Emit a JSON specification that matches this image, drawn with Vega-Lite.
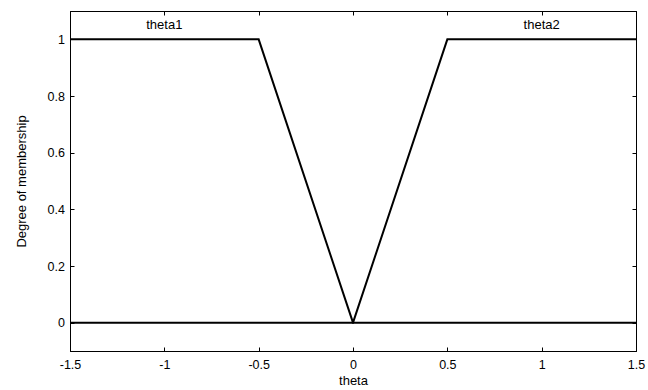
{
  "$schema": "https://vega.github.io/schema/vega-lite/v6.json",
  "width": 566,
  "height": 340,
  "autosize": {"type": "none"},
  "padding": {"left": 70, "top": 11, "right": 12, "bottom": 39},
  "background": "white",
  "config": {
    "view": {"stroke": "black", "strokeWidth": 1},
    "font": "Liberation Sans",
    "axis": {
      "grid": false,
      "domainColor": "black",
      "domainWidth": 1,
      "tickColor": "black",
      "tickSize": -4,
      "labelColor": "black",
      "labelFont": "Liberation Sans",
      "labelFontSize": 12.5,
      "labelExpr": "datum.value + ''",
      "titleFont": "Liberation Sans",
      "titleFontSize": 13,
      "titleFontWeight": "normal",
      "titleColor": "black"
    }
  },
  "datasets": {
    "curves": [
      {"theta": -1.5, "mu": 1, "series": "theta1"},
      {"theta": -0.5, "mu": 1, "series": "theta1"},
      {"theta": 0, "mu": 0, "series": "theta1"},
      {"theta": 1.5, "mu": 0, "series": "theta1"},
      {"theta": -1.5, "mu": 0, "series": "theta2"},
      {"theta": 0, "mu": 0, "series": "theta2"},
      {"theta": 0.5, "mu": 1, "series": "theta2"},
      {"theta": 1.5, "mu": 1, "series": "theta2"}
    ],
    "labels": [
      {"theta": -1, "mu": 1.052, "label": "theta1"},
      {"theta": 1, "mu": 1.052, "label": "theta2"}
    ]
  },
  "layer": [
    {
      "data": {"name": "curves"},
      "mark": {"type": "line", "color": "black", "strokeWidth": 2},
      "encoding": {
        "x": {
          "field": "theta", "type": "quantitative",
          "scale": {"domain": [-1.5, 1.5], "nice": false, "zero": false},
          "axis": {"orient": "bottom", "values": [-1.5, -1, -0.5, 0, 0.5, 1, 1.5], "labelPadding": 11, "title": "theta", "titleBaseline": "alphabetic", "titleY": 33, "labelFlush": false}
        },
        "y": {
          "field": "mu", "type": "quantitative",
          "scale": {"domain": [-0.1, 1.1], "nice": false, "zero": false},
          "axis": {"orient": "left", "values": [0, 0.2, 0.4, 0.6, 0.8, 1], "labelPadding": 9.5, "title": "Degree of membership", "titleBaseline": "alphabetic", "titleX": -45, "labelFlush": false}
        },
        "detail": {"field": "series"}
      }
    },
    {
      "data": {"name": "labels"},
      "mark": {"type": "text", "color": "black", "font": "Liberation Sans", "fontSize": 13, "baseline": "middle", "align": "center"},
      "encoding": {
        "x": {
          "field": "theta", "type": "quantitative",
          "axis": {"orient": "top", "values": [-1.5, -1, -0.5, 0, 0.5, 1, 1.5], "labels": false, "title": null}
        },
        "y": {
          "field": "mu", "type": "quantitative",
          "axis": {"orient": "right", "values": [0, 0.2, 0.4, 0.6, 0.8, 1], "labels": false, "title": null}
        },
        "text": {"field": "label"}
      }
    }
  ],
  "resolve": {"axis": {"x": "independent", "y": "independent"}}
}
